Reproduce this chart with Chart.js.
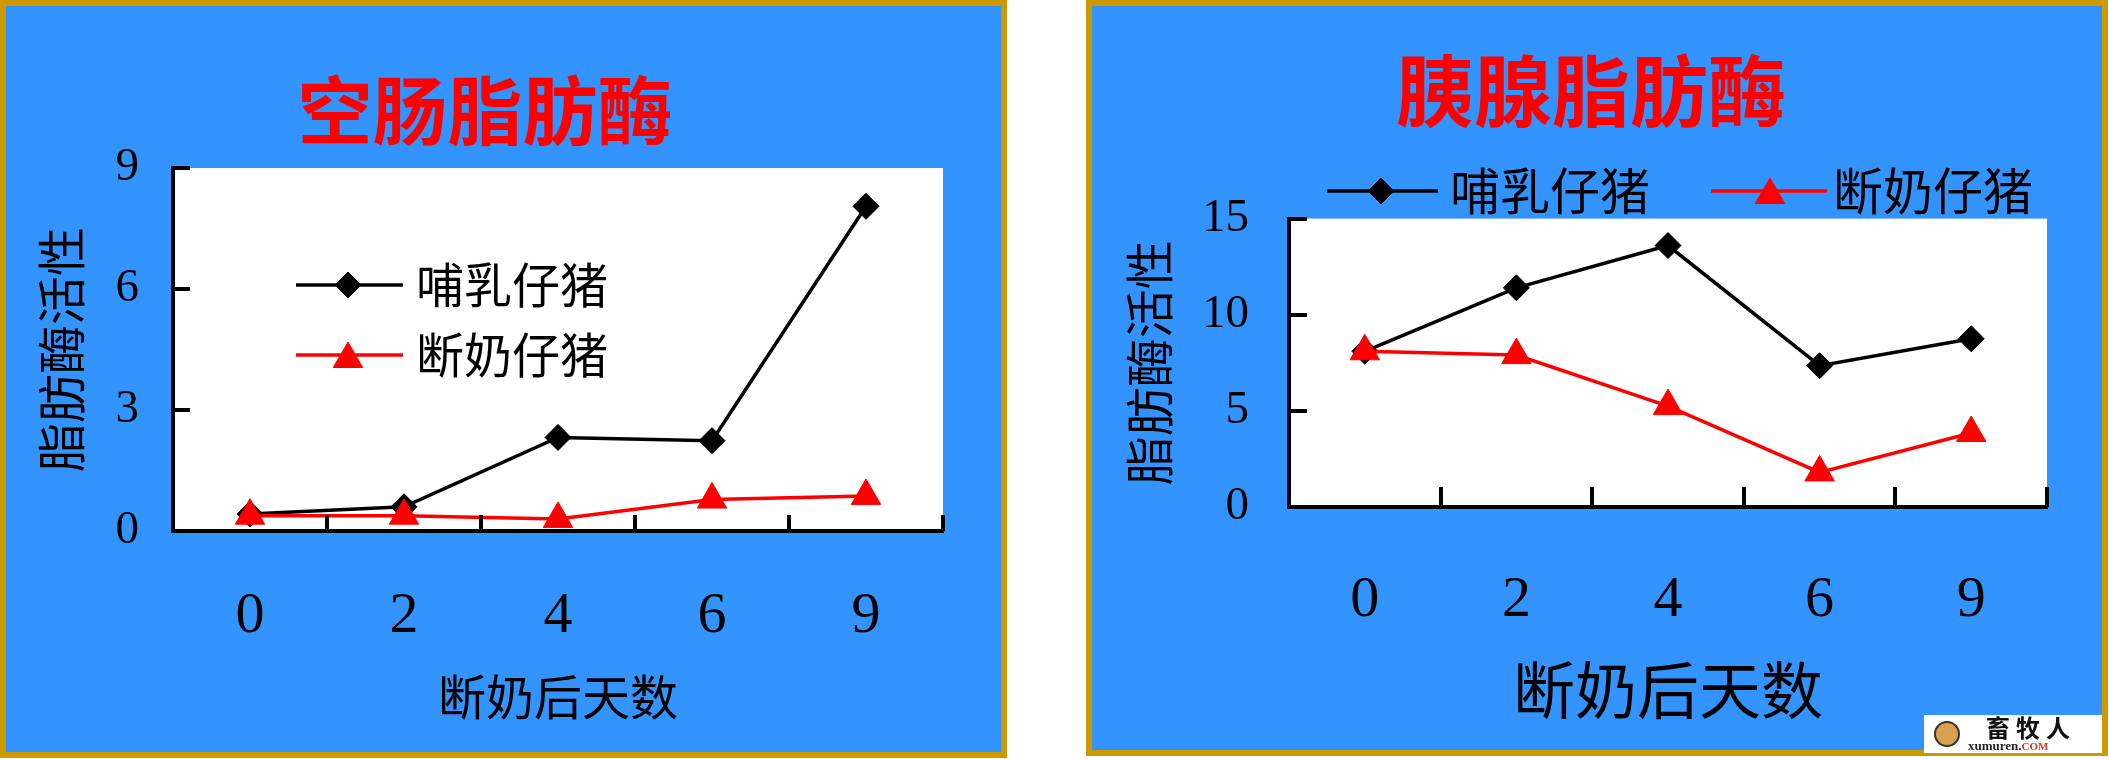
<!DOCTYPE html>
<html><head><meta charset="utf-8">
<script src="https://cdn.jsdelivr.net/npm/chart.js@4.4.1/dist/chart.umd.min.js"></script>
<style>
html,body{margin:0;padding:0;background:#fff;width:2109px;height:759px;overflow:hidden;position:relative;}
.panel{position:absolute;background:#3393FF;border:6px solid #CC9900;box-sizing:border-box;}
#p1{left:0;top:0;width:1007px;height:758px;}
#p2{left:1086px;top:0;width:1022px;height:756px;}
canvas{position:absolute;}
#c1{left:0;top:0;}
#c2{left:1086px;top:0;}
#wm{position:absolute;left:1924px;top:715px;width:178px;height:38px;background:#fff;font-family:"Noto Sans CJK SC";}
#wm .ic{position:absolute;left:10px;top:6px;width:26px;height:26px;border-radius:50%;background:#D9A050;border:2px solid #333;box-sizing:border-box;}
#wm .cn{position:absolute;left:62px;top:-2px;font-size:24px;font-weight:bold;letter-spacing:6px;color:#111;line-height:28px;}
#wm .en{position:absolute;left:44px;top:24px;font-size:13px;font-family:"Liberation Serif";font-weight:bold;color:#222;line-height:14px;}
#wm .en span{color:#E03020;font-size:11px;}
</style></head>
<body>
<div class="panel" id="p1"></div>
<div class="panel" id="p2"></div>
<canvas id="c1" width="1007" height="758"></canvas>
<canvas id="c2" width="1022" height="756"></canvas>
<div id="wm"><div class="ic"></div><div class="cn">畜牧人</div><div class="en">xumuren.<span>COM</span></div></div>
<script>
// ---- data ----
const categories = ['0', '2', '4', '6', '9'];
const seriesNames = ['哺乳仔猪', '断奶仔猪'];
const jejunumSuckling = [0.42, 0.6, 2.32, 2.24, 8.05];
const jejunumWeaned = [0.38, 0.38, 0.3, 0.78, 0.87];
const pancreasSuckling = [8.1, 11.4, 13.6, 7.35, 8.75];
const pancreasWeaned = [8.1, 7.9, 5.25, 1.8, 3.85];
const jejunumTicks = [0, 3, 6, 9];
const pancreasTicks = [0, 5, 10, 15];
const titleLeft = '空肠脂肪酶';
const titleRight = '胰腺脂肪酶';
const yTitle = '脂肪酶活性';
const xTitle = '断奶后天数';

const CJK = '"Noto Sans CJK SC", "Noto Sans CJK JP", sans-serif';
const SERIF = '"Liberation Serif", "DejaVu Serif", serif';

const plotBg = {
  id: 'plotBg',
  beforeDraw(chart) {
    const {ctx, chartArea: a} = chart;
    ctx.save();
    ctx.fillStyle = '#ffffff';
    ctx.fillRect(a.left, a.top, a.right - a.left, a.bottom - a.top);
    ctx.restore();
  }
};

const innerTicks = {
  id: 'innerTicks',
  afterDatasetsDraw(chart, args, opts) {
    const {ctx, chartArea: a, scales: {x, y}} = chart;
    ctx.save();
    ctx.strokeStyle = '#000';
    ctx.lineWidth = opts.width;
    ctx.lineCap = 'butt';
    ctx.beginPath();
    y.ticks.forEach(t => {
      if (t.value === y.min) return;
      const py = Math.round(y.getPixelForValue(t.value));
      ctx.moveTo(a.left, py);
      ctx.lineTo(a.left + opts.yLen, py);
    });
    for (let k = 0; k < x.ticks.length; k++) {
      const px = Math.round(x.getPixelForValue(k + 0.5));
      ctx.moveTo(px, a.bottom);
      ctx.lineTo(px, a.bottom - opts.xLen);
    }
    ctx.stroke();
    ctx.restore();
  }
};

function drawMarker(ctx, style, r, x, y) {
  ctx.beginPath();
  if (style === 'rectRot') {
    ctx.moveTo(x - r, y); ctx.lineTo(x, y - r); ctx.lineTo(x + r, y); ctx.lineTo(x, y + r);
  } else {
    let rad = 0;
    ctx.moveTo(x + Math.sin(rad) * r, y - Math.cos(rad) * r);
    rad += 2 * Math.PI / 3;
    ctx.lineTo(x + Math.sin(rad) * r, y - Math.cos(rad) * r);
    rad += 2 * Math.PI / 3;
    ctx.lineTo(x + Math.sin(rad) * r, y - Math.cos(rad) * r);
  }
  ctx.closePath();
  ctx.fill();
  ctx.stroke();
}

const customLegend = {
  id: 'customLegend',
  afterDraw(chart, args, opts) {
    const ctx = chart.ctx;
    ctx.save();
    chart.data.datasets.forEach((ds, i) => {
      const it = opts.items[i];
      ctx.strokeStyle = ds.borderColor;
      ctx.lineWidth = ds.borderWidth;
      ctx.beginPath();
      ctx.moveTo(it.x1, it.y);
      ctx.lineTo(it.x2, it.y);
      ctx.stroke();
      ctx.fillStyle = ds.pointBackgroundColor;
      ctx.strokeStyle = ds.pointBorderColor;
      ctx.lineWidth = ds.pointBorderWidth;
      drawMarker(ctx, ds.pointStyle, ds.pointRadius, it.mx, it.y + (ds.pointStyle === 'triangle' ? 4 : 0));
      ctx.fillStyle = '#000';
      ctx.font = opts.fontSize + 'px ' + CJK;
      ctx.textAlign = 'left';
      ctx.textBaseline = 'middle';
      ctx.fillText(ds.label, it.tx, it.y);
    });
    ctx.restore();
  }
};

function datasets(black, red) {
  return [
    {label: seriesNames[0], data: black, borderColor: '#000000', backgroundColor: '#000000', borderWidth: 3.5,
     pointStyle: 'rectRot', pointRadius: 13, pointBackgroundColor: '#000000', pointBorderColor: '#000000',
     pointBorderWidth: 1, tension: 0, order: 2},
    {label: seriesNames[1], data: red, borderColor: '#FF0000', backgroundColor: '#FF0000', borderWidth: 3.5,
     pointStyle: 'triangle', pointRadius: 17, pointBackgroundColor: '#FF0000', pointBorderColor: '#FF0000',
     pointBorderWidth: 1, tension: 0, order: 1}
  ];
}

function makeChart(id, cfg) {
  return new Chart(document.getElementById(id), {
    type: 'line',
    data: {labels: categories, datasets: datasets(cfg.black, cfg.red)},
    plugins: [plotBg, innerTicks, customLegend],
    options: {
      responsive: false,
      animation: false,
      devicePixelRatio: 1,
      clip: false,
      layout: {padding: cfg.pad},
      plugins: {
        legend: {display: false},
        tooltip: {enabled: false},
        title: {display: true, text: cfg.title, color: '#FF0000',
                font: {family: CJK, size: cfg.titleSize, weight: 'bold', lineHeight: 1.2},
                padding: cfg.titlePad},
        innerTicks: cfg.ticksOpt,
        customLegend: cfg.legend
      },
      scales: {
        x: {
          type: 'category', offset: true,
          grid: {display: true, drawOnChartArea: false, drawTicks: false, offset: true, color: 'rgba(0,0,0,0)'},
          border: {display: true, color: '#000', width: 4},
          ticks: {color: '#000', font: {family: SERIF, size: cfg.xTickSize}, padding: cfg.xTickPad, maxRotation: 0, autoSkip: false},
          title: {display: true, text: xTitle, color: '#000', font: {family: CJK, size: cfg.xTitleSize, lineHeight: 1.2},
                  padding: {top: 0, bottom: cfg.xTitlePadB}},
          afterFit(s) { s.height = cfg.xHeight; }
        },
        y: {
          min: cfg.yTicks[0], max: cfg.yTicks[cfg.yTicks.length - 1],
          afterBuildTicks(s) { s.ticks = cfg.yTicks.map(v => ({value: v})); },
          grid: {display: true, drawOnChartArea: false, drawTicks: false, color: 'rgba(0,0,0,0)'},
          border: {display: true, color: '#000', width: 4},
          ticks: {color: '#000', font: {family: SERIF, size: cfg.yTickSize}, padding: cfg.yTickPad},
          title: {display: true, text: yTitle, color: '#000', font: {family: CJK, size: cfg.yTitleSize, lineHeight: 1.2},
                  padding: {top: cfg.yTitlePadT, bottom: 0}},
          afterFit(s) { s.width = cfg.yWidth; }
        }
      }
    }
  });
}

makeChart('c1', {
  black: jejunumSuckling, red: jejunumWeaned, yTicks: jejunumTicks, title: titleLeft,
  pad: {left: 27, right: 64, top: 0, bottom: 0},
  titleSize: 75, titlePad: {top: 65, bottom: 13},
  xTickSize: 58, xTickPad: 51, xTitleSize: 48, xTitlePadB: 32, xHeight: 227,
  yTickSize: 47, yTickPad: 34, yTitleSize: 49, yTitlePadT: 5, yWidth: 146,
  ticksOpt: {width: 4, yLen: 17, xLen: 16},
  legend: {fontSize: 48, items: [
    {x1: 296, x2: 403, mx: 348, tx: 416, y: 285},
    {x1: 296, x2: 403, mx: 348, tx: 416, y: 355}
  ]}
});

makeChart('c2', {
  black: pancreasSuckling, red: pancreasWeaned, yTicks: pancreasTicks, title: titleRight,
  pad: {left: 49, right: 61, top: 0, bottom: 0},
  titleSize: 78, titlePad: {top: 45, bottom: 80},
  xTickSize: 58, xTickPad: 59, xTitleSize: 62, xTitlePadB: 28, xHeight: 249,
  yTickSize: 47, yTickPad: 40, yTitleSize: 49, yTitlePadT: -15, yWidth: 154,
  ticksOpt: {width: 4, yLen: 18, xLen: 20},
  legend: {fontSize: 50, items: [
    {x1: 241, x2: 352, mx: 295, tx: 364, y: 191},
    {x1: 625, x2: 741, mx: 684, tx: 747, y: 191}
  ]}
});
</script>
</body></html>
